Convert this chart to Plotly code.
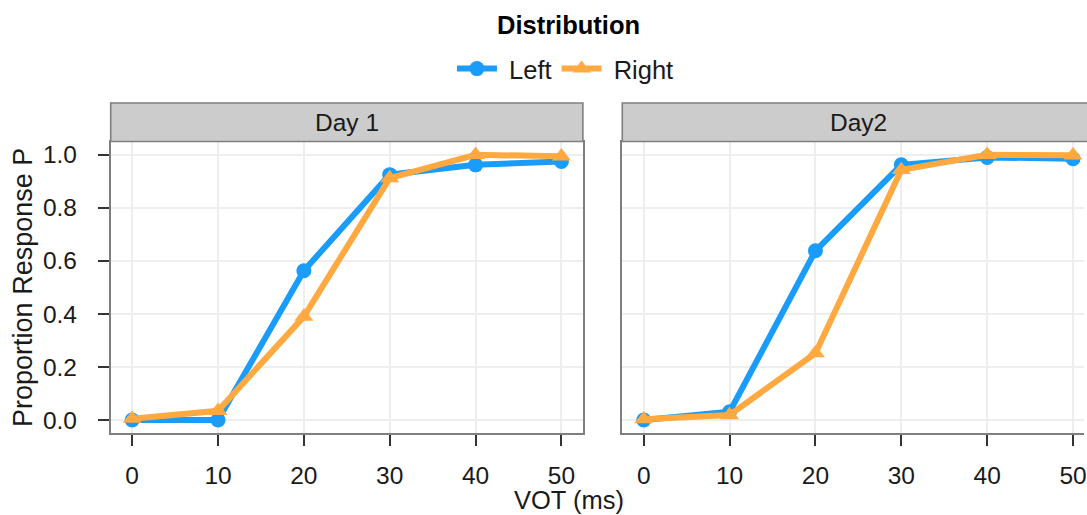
import plotly.graph_objects as go

# ---- data ----
vot = [0, 10, 20, 30, 40, 50]
x_ticks = [0, 10, 20, 30, 40, 50]
y_ticks = [0.0, 0.2, 0.4, 0.6, 0.8, 1.0]
y_tick_text = ["0.0", "0.2", "0.4", "0.6", "0.8", "1.0"]
panels = ["Day 1", "Day2"]
series = ["Left", "Right"]
day1_left = [0.0, 0.0, 0.563, 0.925, 0.962, 0.975]
day1_right = [0.005, 0.035, 0.39, 0.912, 1.0, 0.994]
day2_left = [0.0, 0.031, 0.638, 0.962, 0.99, 0.985]
day2_right = [0.003, 0.019, 0.252, 0.943, 1.0, 0.998]

W, H = 1087, 515
FONT = "Liberation Sans, Arial, Helvetica, sans-serif"
BLUE = "#1A9CFB"
ORANGE = "#FFA940"
BORDER = "#7F7F7F"
GRID = "#EEEEEE"

def px(x):
    return x / W

def py(y):
    return 1 - y / H

# panel geometry in pixels
L0, L1 = 111, 584.5
R0, R1 = 624, 1098
TOP, BOT = 141.5, 433.3
STRIP_TOP = 103
unit = (L1 - L0) / 55.0
xr_left = [-2.5, 52.5]
xr_right = [-2.5, -2.5 + (W - R0) / unit]

fig = go.Figure()

data = {
    ("Day 1", "Left"): day1_left,
    ("Day 1", "Right"): day1_right,
    ("Day2", "Left"): day2_left,
    ("Day2", "Right"): day2_right,
}
style = {
    "Left": dict(color=BLUE, symbol="circle", size=15),
    "Right": dict(color=ORANGE, symbol="triangle-up", size=16.5),
}
for i, p in enumerate(panels):
    xa = "x" if i == 0 else "x2"
    ya = "y" if i == 0 else "y2"
    for s in series:
        st = style[s]
        fig.add_trace(go.Scatter(
            x=vot, y=data[(p, s)], mode="lines+markers", name="\u00a0" + s,
            xaxis=xa, yaxis=ya, showlegend=(i == 0), legendgroup=s,
            line=dict(color=st["color"], width=6),
            marker=dict(color=st["color"], symbol=st["symbol"], size=st["size"]),
            cliponaxis=False,
        ))

axis_common = dict(
    showgrid=True, gridcolor=GRID, gridwidth=2, zeroline=False,
    showline=True, linecolor=BORDER, linewidth=1.6,
    ticks="outside", ticklen=11, tickwidth=1.5, tickcolor="#333333",
    tickfont=dict(family=FONT, size=24.5, color="#1a1a1a"),
    ticklabeloverflow="allow",
)

fig.update_layout(
    width=W, height=H,
    margin=dict(l=0, r=0, t=0, b=0),
    paper_bgcolor="white", plot_bgcolor="white",
    font=dict(family=FONT, color="#1a1a1a"),
    xaxis=dict(domain=[px(L0), px(L1)], range=xr_left, tickvals=x_ticks,
               mirror=True, ticklabelstandoff=8, **axis_common),
    yaxis=dict(domain=[py(BOT), py(TOP)], range=[-0.05, 1.05], tickvals=y_ticks,
               ticktext=y_tick_text, mirror=True, ticklabelstandoff=16, **axis_common),
    xaxis2=dict(domain=[px(R0), 1.0], range=xr_right, tickvals=x_ticks, anchor="y2",
                mirror=True, ticklabelstandoff=8, **axis_common),
    yaxis2=dict(domain=[py(BOT), py(TOP)], range=[-0.05, 1.05], tickvals=y_ticks,
                anchor="x2", mirror=False, showticklabels=False,
                **{k: v for k, v in axis_common.items() if k not in ("ticks",)}, ticks=""),
    legend=dict(orientation="h", x=px(567), xanchor="center", y=py(69), yanchor="middle",
                font=dict(family=FONT, size=25.5, color="#1a1a1a"),
                itemwidth=40, bgcolor="rgba(0,0,0,0)"),
    showlegend=True,
)

shapes = []
for (a, b) in [(L0, L1), (R0, R1)]:
    shapes.append(dict(type="rect", xref="paper", yref="paper",
                       x0=px(a), x1=px(b), y0=py(TOP), y1=py(STRIP_TOP),
                       fillcolor="#CCCCCC", line=dict(color=BORDER, width=1.6),
                       layer="above"))
fig.update_layout(shapes=shapes)

ann = []
ann.append(dict(text="Day 1", x=px((L0 + L1) / 2), y=py((STRIP_TOP + TOP) / 2),
                xref="paper", yref="paper", showarrow=False,
                font=dict(family=FONT, size=24.5, color="#1a1a1a"),
                xanchor="center", yanchor="middle"))
ann.append(dict(text="Day2", x=px((R0 + R1) / 2), y=py((STRIP_TOP + TOP) / 2),
                xref="paper", yref="paper", showarrow=False,
                font=dict(family=FONT, size=24.5, color="#1a1a1a"),
                xanchor="center", yanchor="middle"))
ann.append(dict(text="VOT (ms)", x=px(571), y=py(500), xref="paper", yref="paper",
                showarrow=False, font=dict(family=FONT, size=25.5, color="#1a1a1a"),
                xanchor="center", yanchor="middle"))
ann.append(dict(text="Proportion Response P", x=px(23), y=py(287), xref="paper",
                yref="paper", showarrow=False, textangle=-90,
                font=dict(family=FONT, size=27, color="#1a1a1a"),
                xanchor="center", yanchor="middle"))
ann.append(dict(text="<b>Distribution</b>", x=px(570), y=py(25), xref="paper",
                yref="paper", showarrow=False,
                font=dict(family=FONT, size=25.5, color="#000000"),
                xanchor="center", yanchor="middle"))
fig.update_layout(annotations=ann)

fig.write_html(
    "out.html",
    config={"displayModeBar": False},
    post_script="document.body.style.margin='0';document.body.style.overflow='hidden';",
)
